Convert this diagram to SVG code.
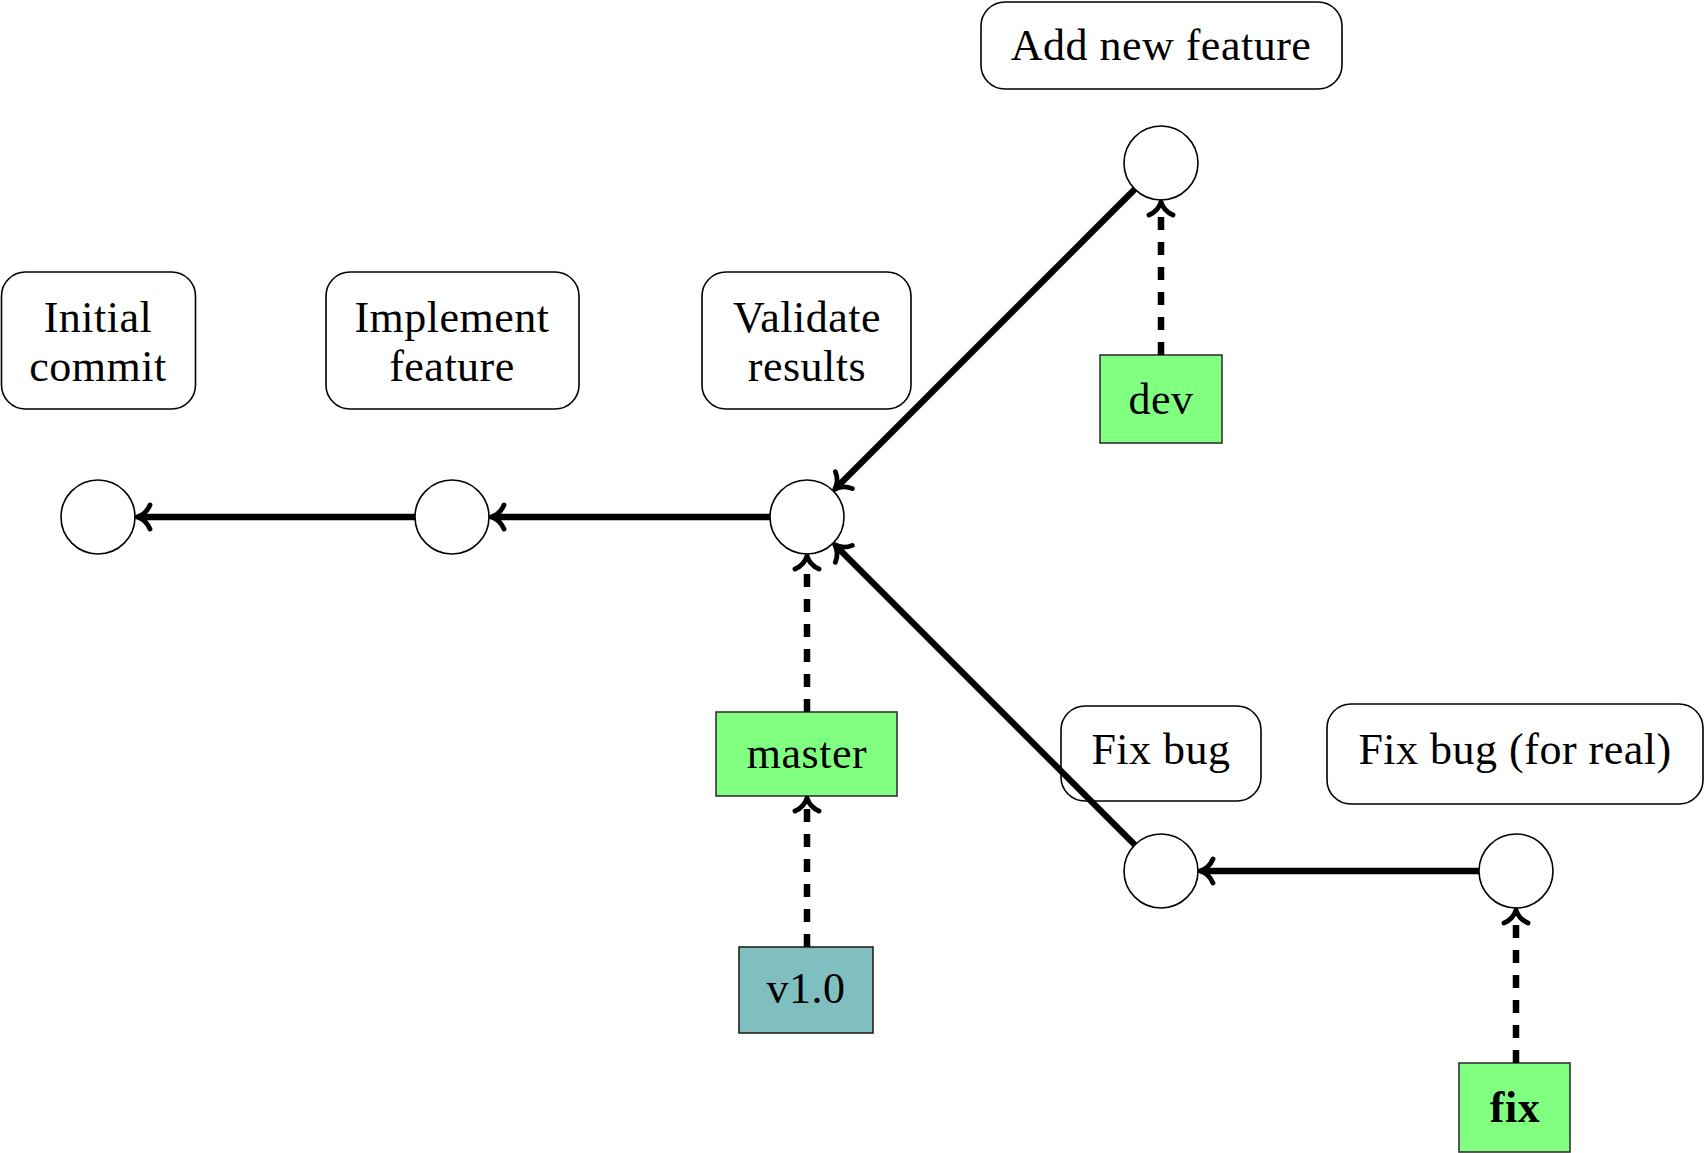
<svg xmlns="http://www.w3.org/2000/svg" width="1705" height="1153" viewBox="0 0 1705 1153">
<style>
  .msg { fill: #ffffff; stroke: #000000; stroke-width: 1.6; }
  .commit { fill: #ffffff; stroke: #000000; stroke-width: 1.6; }
  .branch { fill: #80ff80; stroke: #333333; stroke-width: 1.6; }
  .tag { fill: #80bfbf; stroke: #222222; stroke-width: 1.6; }
  text { font-family: "Liberation Serif", "Times New Roman", serif; font-size: 44px; letter-spacing: 0.5px; fill: #000000; text-anchor: middle; }
  .bold { font-weight: bold; }
  .edge { fill: none; stroke: #000000; stroke-width: 6.3; }
  .ref { fill: none; stroke: #000000; stroke-width: 6.5; stroke-dasharray: 13 12; }
</style>
<defs>
  <marker id="tip" markerUnits="userSpaceOnUse" orient="auto" overflow="visible" markerWidth="20" markerHeight="32" refX="-3" refY="0">
    <path d="M -13 -12 C -10 -5, -4 -1.2, 0 0 C -4 1.2, -10 5, -13 12" fill="none" stroke="#000000" stroke-width="4.8" stroke-linecap="round" stroke-linejoin="round"/>
  </marker>
</defs>

<g id="msg-initial">
  <rect class="msg" x="1.5" y="272" width="194" height="137" rx="24"/>
  <text x="98" y="332">Initial</text>
  <text x="98" y="381">commit</text>
</g>
<g id="msg-implement">
  <rect class="msg" x="326" y="272" width="253" height="137" rx="24"/>
  <text x="452" y="332">Implement</text>
  <text x="452" y="381">feature</text>
</g>
<g id="msg-validate">
  <rect class="msg" x="702" y="272" width="209" height="137" rx="24"/>
  <text x="807" y="332">Validate</text>
  <text x="807" y="381">results</text>
</g>
<g id="msg-addfeature">
  <rect class="msg" x="981" y="2" width="361" height="87" rx="24"/>
  <text x="1161" y="60">Add new feature</text>
</g>
<g id="msg-fixbug">
  <rect class="msg" x="1061" y="706" width="200" height="95" rx="24"/>
  <text x="1161" y="764">Fix bug</text>
</g>
<g id="msg-fixreal">
  <rect class="msg" x="1327" y="704" width="376" height="100" rx="24"/>
  <text x="1515" y="764">Fix bug (for real)</text>
</g>

<g id="commit-1"><circle class="commit" cx="98" cy="517" r="37"/></g>
<g id="commit-2"><circle class="commit" cx="452" cy="517" r="37"/></g>
<g id="commit-3"><circle class="commit" cx="807" cy="517" r="37"/></g>
<g id="commit-4"><circle class="commit" cx="1161" cy="163" r="37"/></g>
<g id="commit-5"><circle class="commit" cx="1161" cy="871" r="37"/></g>
<g id="commit-6"><circle class="commit" cx="1516" cy="871" r="37"/></g>

<g id="branch-dev">
  <rect class="branch" x="1100" y="355" width="122" height="88"/>
  <text x="1161" y="414">dev</text>
</g>
<g id="branch-master">
  <rect class="branch" x="716" y="712" width="181" height="84"/>
  <text x="807" y="768">master</text>
</g>
<g id="tag-v1">
  <rect class="tag" x="739" y="947" width="134" height="86"/>
  <text x="806" y="1003">v1.0</text>
</g>
<g id="branch-fix">
  <rect class="branch" x="1459" y="1063" width="111" height="89"/>
  <text class="bold" x="1515" y="1122">fix</text>
</g>

<g id="connectors">
  <path class="edge" d="M 415 517 L 140 517" marker-end="url(#tip)"/>
  <path class="edge" d="M 770 517 L 494 517" marker-end="url(#tip)"/>
  <path class="edge" d="M 1135 189 L 836.8 487.2" marker-end="url(#tip)"/>
  <path class="edge" d="M 1135 845 L 836.8 546.8" marker-end="url(#tip)"/>
  <path class="edge" d="M 1479 871 L 1203 871" marker-end="url(#tip)"/>
  <path class="ref" d="M 1161 355 L 1161 205" marker-end="url(#tip)"/>
  <path class="ref" d="M 807 712 L 807 559" marker-end="url(#tip)"/>
  <path class="ref" d="M 807 947 L 807 801" marker-end="url(#tip)"/>
  <path class="ref" d="M 1516 1063 L 1516 913" marker-end="url(#tip)"/>
</g>
</svg>
